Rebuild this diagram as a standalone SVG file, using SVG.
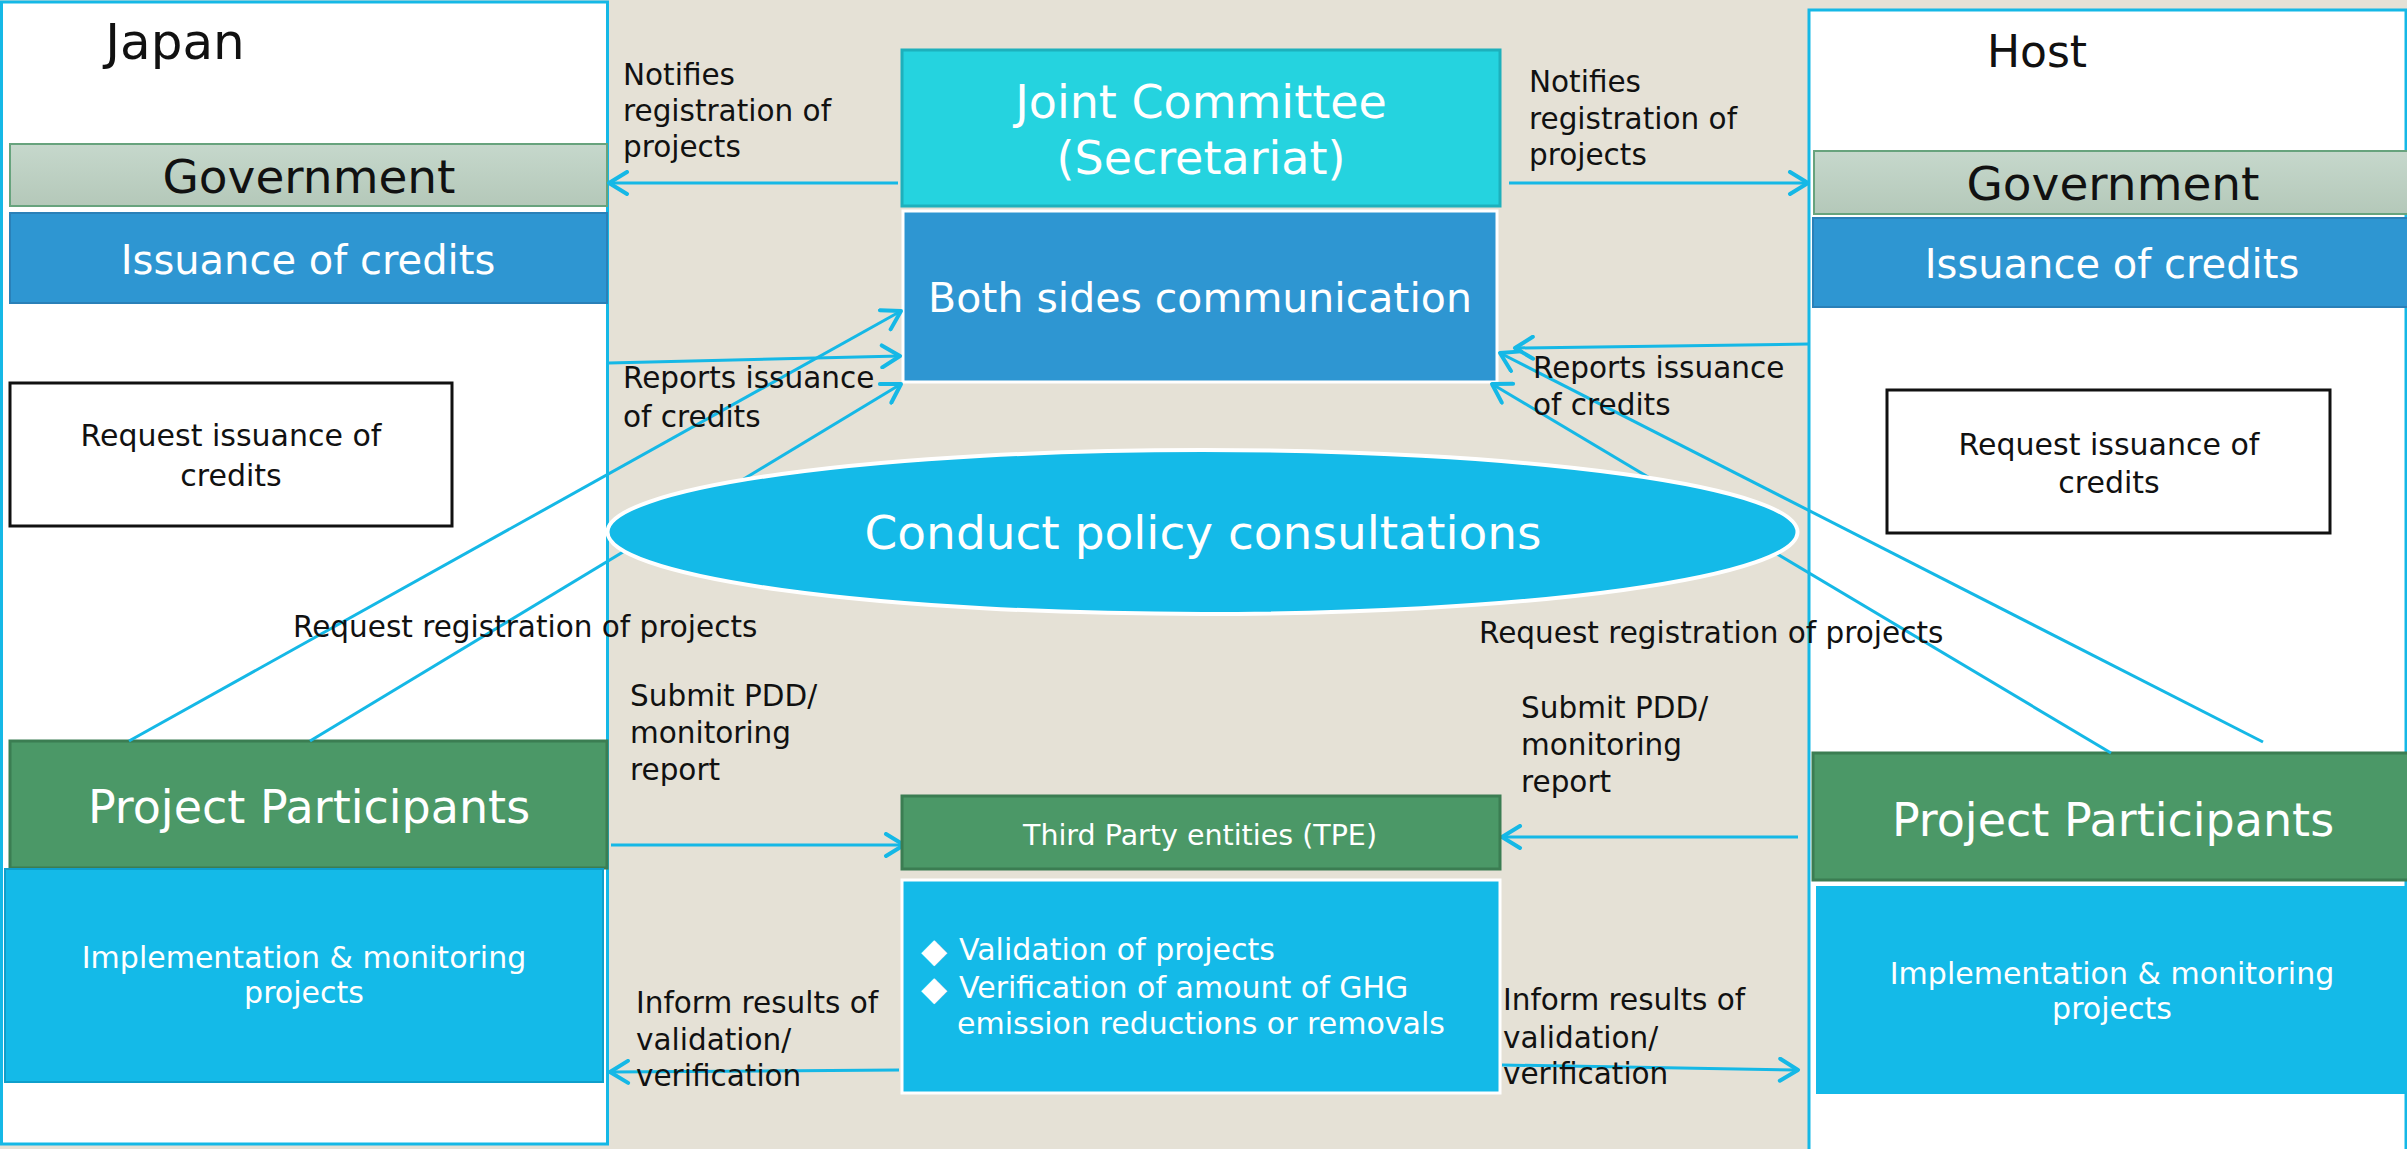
<svg xmlns="http://www.w3.org/2000/svg" width="2407" height="1149" viewBox="0 0 2407 1149">
<defs>
<linearGradient id="govGrad" x1="0" y1="0" x2="0" y2="1">
<stop offset="0" stop-color="#c6d8cc"/>
<stop offset="1" stop-color="#b4c8b9"/>
</linearGradient>
<marker id="arr" viewBox="0 0 24 26" refX="21" refY="13" markerWidth="24" markerHeight="26" markerUnits="userSpaceOnUse" orient="auto">
<path d="M3,2 L21,13 L3,24" fill="none" stroke="#15b8e6" stroke-width="4" stroke-linecap="round" stroke-linejoin="round"/>
</marker>
<style>
text{font-family:"DejaVu Sans","Liberation Sans",sans-serif;}
.lbl{font-size:29.5px;fill:#111;}
.wt{fill:#fff;text-anchor:middle;}
.bk{fill:#111;text-anchor:middle;}
.side{fill:#fff;stroke:#15b8e6;stroke-width:3;}
.gov{fill:url(#govGrad);stroke:#67a37d;stroke-width:2;}
.iss{fill:#2e96d2;stroke:#2a80b8;stroke-width:2;}
.req{fill:#fff;stroke:#111;stroke-width:3;}
.pp{fill:#4b9867;stroke:#3b7d52;stroke-width:3;}
.impl{fill:#14bae8;stroke:#0f9fcb;stroke-width:2;}
.bul{font-size:34px;}
.conn line{stroke:#15b8e6;stroke-width:3;fill:none;}
</style>
</defs>
<rect x="0" y="0" width="2407" height="1149" fill="#e5e1d6"/>

<g id="japan">
<rect class="side" x="1.5" y="2" width="606" height="1142"/>
<text x="175" y="59" class="bk" font-size="50">Japan</text>
</g>
<g id="host">
<rect class="side" x="1809" y="10" width="597" height="1160"/>
<text x="2037" y="67" class="bk" font-size="44">Host</text>
</g>

<g id="japan-government">
<rect class="gov" x="10" y="144" width="597" height="62"/>
<text x="309" y="193" class="bk" font-size="47">Government</text>
</g>
<g id="japan-issuance">
<rect class="iss" x="10" y="213" width="597" height="90"/>
<text x="308" y="274" class="wt" font-size="40">Issuance of credits</text>
</g>
<g id="japan-request">
<rect class="req" x="10" y="383" width="442" height="143"/>
<text x="231" y="446" class="bk" font-size="30">Request issuance of</text>
<text x="231" y="486" class="bk" font-size="30">credits</text>
</g>
<g id="japan-participants">
<rect class="pp" x="10" y="741" width="597" height="127"/>
<text x="309" y="823" class="wt" font-size="46">Project Participants</text>
</g>
<g id="japan-implementation">
<rect class="impl" x="5" y="869" width="598" height="213"/>
<text x="304" y="968" class="wt" font-size="30">Implementation &amp; monitoring</text>
<text x="304" y="1003" class="wt" font-size="30">projects</text>
</g>

<g id="host-government">
<rect class="gov" x="1814" y="151" width="600" height="63"/>
<text x="2113" y="200" class="bk" font-size="47">Government</text>
</g>
<g id="host-issuance">
<rect class="iss" x="1813" y="218" width="600" height="89"/>
<text x="2112" y="278" class="wt" font-size="40">Issuance of credits</text>
</g>
<g id="host-request">
<rect class="req" x="1887" y="390" width="443" height="143"/>
<text x="2109" y="455" class="bk" font-size="30">Request issuance of</text>
<text x="2109" y="493" class="bk" font-size="30">credits</text>
</g>
<g id="host-participants">
<rect class="pp" x="1813" y="753" width="600" height="127"/>
<text x="2113" y="836" class="wt" font-size="46">Project Participants</text>
</g>
<g id="host-implementation">
<rect fill="#14bae8" x="1816" y="886" width="600" height="208"/>
<text x="2112" y="984" class="wt" font-size="30">Implementation &amp; monitoring</text>
<text x="2112" y="1019" class="wt" font-size="30">projects</text>
</g>

<g id="joint-committee">
<rect x="902" y="50" width="598" height="156" fill="#25d3df" stroke="#1db0bc" stroke-width="3"/>
<text x="1201" y="118" class="wt" font-size="46">Joint Committee</text>
<text x="1201" y="174" class="wt" font-size="46">(Secretariat)</text>
</g>
<g id="both-sides">
<rect x="903" y="211" width="594" height="171" fill="#2e96d2" stroke="#fff" stroke-width="3"/>
<text x="1200" y="312" class="wt" font-size="41">Both sides communication</text>
</g>

<g class="conn" id="connectors">
<line x1="898" y1="183" x2="609" y2="183" marker-end="url(#arr)"/>
<line x1="1509" y1="183" x2="1808" y2="183" marker-end="url(#arr)"/>
<line x1="609" y1="363" x2="900" y2="356" marker-end="url(#arr)"/>
<line x1="129" y1="741" x2="901" y2="311" marker-end="url(#arr)"/>
<line x1="310" y1="741" x2="901" y2="384" marker-end="url(#arr)"/>
<line x1="1809" y1="344" x2="1515" y2="348" marker-end="url(#arr)"/>
<line x1="2263" y1="742" x2="1500" y2="353" marker-end="url(#arr)"/>
<line x1="2111" y1="753" x2="1492" y2="384" marker-end="url(#arr)"/>
<line x1="611" y1="845" x2="904" y2="845" marker-end="url(#arr)"/>
<line x1="1798" y1="837" x2="1502" y2="837" marker-end="url(#arr)"/>
<line x1="899" y1="1070" x2="610" y2="1072" marker-end="url(#arr)"/>
<line x1="1502" y1="1065" x2="1798" y2="1070" marker-end="url(#arr)"/>
</g>

<g id="policy-consultations">
<ellipse cx="1202.5" cy="532" rx="595" ry="82" fill="#14bae8" stroke="#fff" stroke-width="4"/>
<text x="1203" y="549" class="wt" font-size="47">Conduct policy consultations</text>
</g>
<g id="tpe">
<rect class="pp" x="902" y="796" width="598" height="73"/>
<text x="1200" y="845" class="wt" font-size="28.5">Third Party entities (TPE)</text>
</g>
<g id="tpe-tasks">
<rect x="902" y="880" width="598" height="213" fill="#14bae8" stroke="#fff" stroke-width="3"/>
<text fill="#fff" font-size="30"><tspan class="bul" x="921" y="962">◆</tspan><tspan x="959" y="960">Validation of projects</tspan><tspan class="bul" x="921" y="1000">◆</tspan><tspan x="959" y="998">Verification of amount of GHG</tspan><tspan x="957" y="1034">emission reductions or removals</tspan></text>
</g>

<g id="labels">
<text class="lbl" x="623" y="85">Notifies</text>
<text class="lbl" x="623" y="121">registration of</text>
<text class="lbl" x="623" y="157">projects</text>
<text class="lbl" x="1529" y="92">Notifies</text>
<text class="lbl" x="1529" y="129">registration of</text>
<text class="lbl" x="1529" y="165">projects</text>
<text class="lbl" x="623" y="388">Reports issuance</text>
<text class="lbl" x="623" y="427">of credits</text>
<text class="lbl" x="1533" y="378">Reports issuance</text>
<text class="lbl" x="1533" y="415">of credits</text>
<text class="lbl" x="293" y="637">Request registration of projects</text>
<text class="lbl" x="1479" y="643">Request registration of projects</text>
<text class="lbl" x="630" y="706">Submit PDD/</text>
<text class="lbl" x="630" y="743">monitoring</text>
<text class="lbl" x="630" y="780">report</text>
<text class="lbl" x="1521" y="718">Submit PDD/</text>
<text class="lbl" x="1521" y="755">monitoring</text>
<text class="lbl" x="1521" y="792">report</text>
<text class="lbl" x="636" y="1013">Inform results of</text>
<text class="lbl" x="636" y="1050">validation/</text>
<text class="lbl" x="636" y="1086">verification</text>
<text class="lbl" x="1503" y="1010">Inform results of</text>
<text class="lbl" x="1503" y="1048">validation/</text>
<text class="lbl" x="1503" y="1084">verification</text>
</g>
</svg>
